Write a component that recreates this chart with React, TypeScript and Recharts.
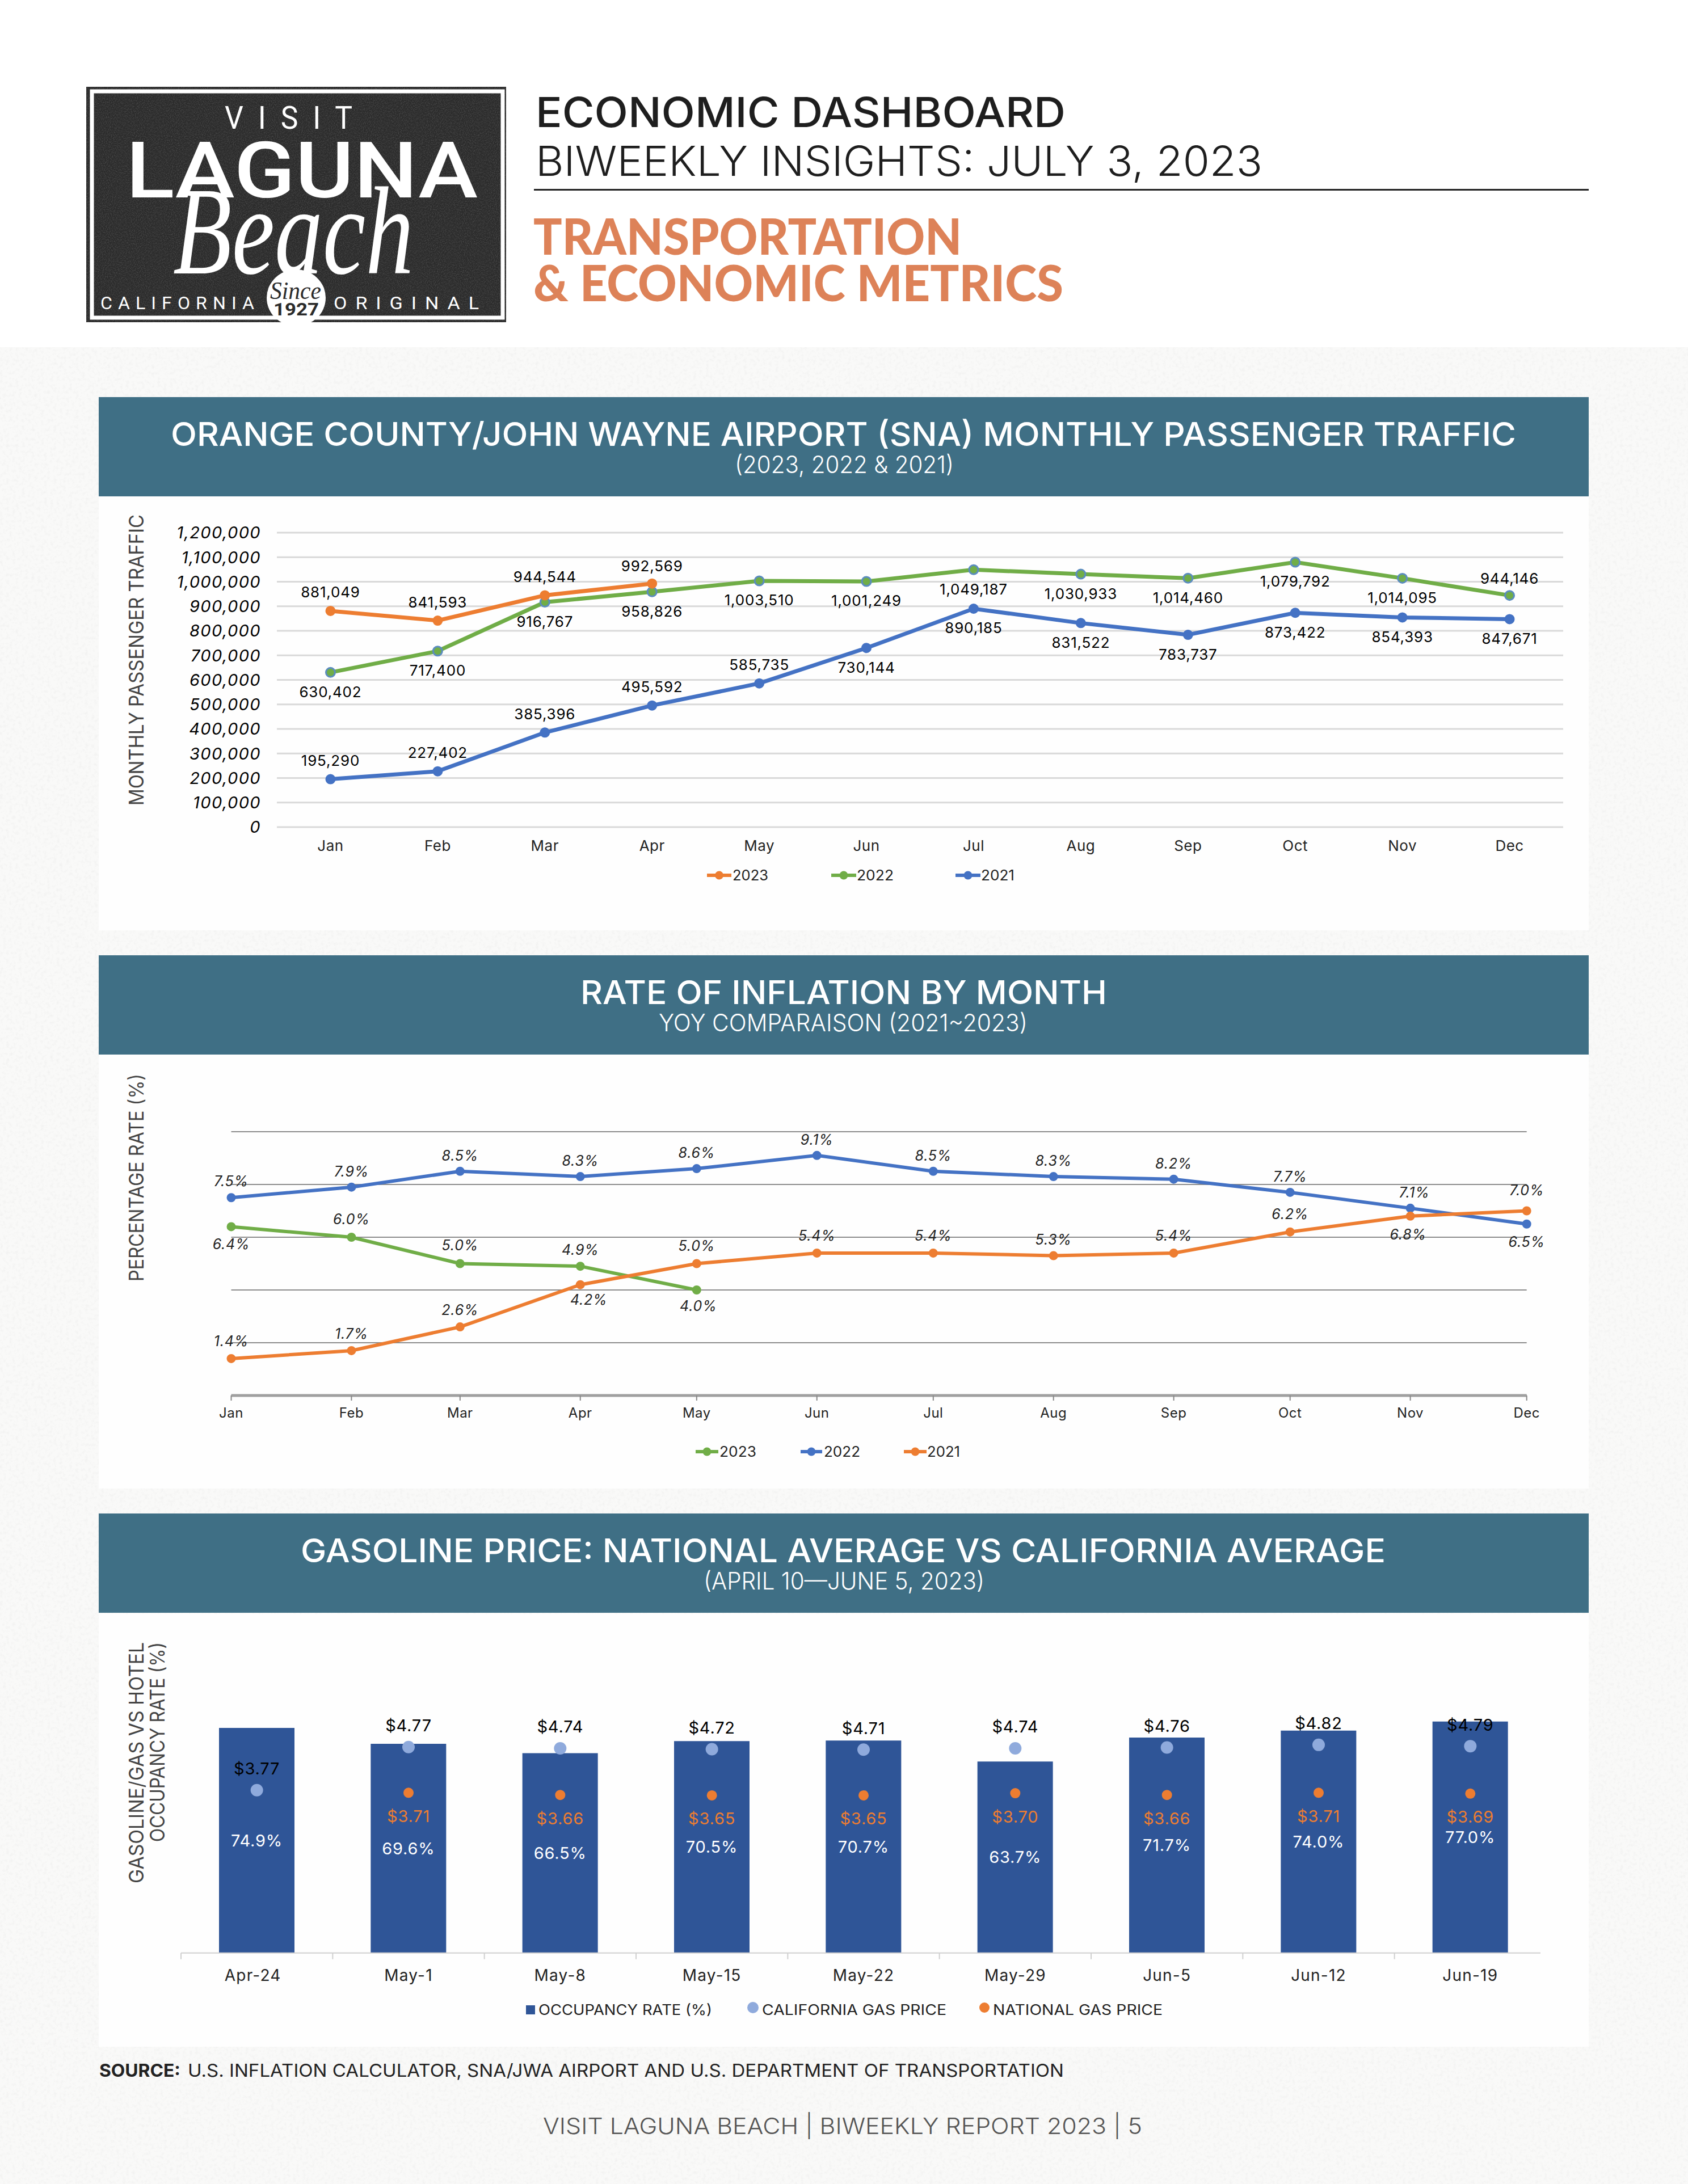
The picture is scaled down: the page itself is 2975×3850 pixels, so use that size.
import React from "react";
import {
  LineChart, ComposedChart, Line, Bar, XAxis, YAxis, CartesianGrid, LabelList, Legend,
} from "recharts";

// ---------- data ----------
const months = ["Jan", "Feb", "Mar", "Apr", "May", "Jun", "Jul", "Aug", "Sep", "Oct", "Nov", "Dec"];
const monthStartDays = [0, 31, 59, 90, 120, 151, 181, 212, 243, 273, 304, 334];

const pax2023 = [881049, 841593, 944544, 992569];
const pax2022 = [630402, 717400, 916767, 958826, 1003510, 1001249, 1049187, 1030933, 1014460, 1079792, 1014095, 944146];
const pax2021 = [195290, 227402, 385396, 495592, 585735, 730144, 890185, 831522, 783737, 873422, 854393, 847671];
const paxTicks = [0, 100000, 200000, 300000, 400000, 500000, 600000, 700000, 800000, 900000, 1000000, 1100000, 1200000];

const infl2023 = [6.4, 6.0, 5.0, 4.9, 4.0];
const infl2022 = [7.5, 7.9, 8.5, 8.3, 8.6, 9.1, 8.5, 8.3, 8.2, 7.7, 7.1, 6.5];
const infl2021 = [1.4, 1.7, 2.6, 4.2, 5.0, 5.4, 5.4, 5.3, 5.4, 6.2, 6.8, 7.0];
const inflTicks = [0, 2, 4, 6, 8, 10];

const weeks = ["Apr-24", "May-1", "May-8", "May-15", "May-22", "May-29", "Jun-5", "Jun-12", "Jun-19"];
const occupancy = [74.9, 69.6, 66.5, 70.5, 70.7, 63.7, 71.7, 74.0, 77.0];
const californiaGas = [3.77, 4.77, 4.74, 4.72, 4.71, 4.74, 4.76, 4.82, 4.79];
const nationalGas = [null, 3.71, 3.66, 3.65, 3.65, 3.70, 3.66, 3.71, 3.69];

// ---------- tables for the library ----------
const paxTable = months.map((month, i) => ({ month, y2023: pax2023[i] ?? null, y2022: pax2022[i], y2021: pax2021[i] }));
const inflTable = months.map((month, i) => ({ month, day: monthStartDays[i], y2023: infl2023[i] ?? null, y2022: infl2022[i], y2021: infl2021[i] }));
const gasTable = weeks.map((week, i) => ({ week, occupancy: occupancy[i], ca: californiaGas[i], us: nationalGas[i] }));

// ---------- style ----------
const FONT = "Inter, 'Noto Sans', sans-serif";
const ORANGE = "#ed7d31";
const GREEN = "#70ad47";
const BLUE = "#4472c4";
const BAND = "#3f6f85";
const BAR = "#2f5597";
const LIGHTBLUE = "#8faadc";

// label placement, offsets from each point
const up = -33, dn = 34;
const paxDy2023 = [up, up, up, -31];
const paxDy2022 = [dn, dn, dn, dn, dn, dn, dn, dn, dn, dn, dn, -30];
const paxDy2021 = [up, up, up, up, up, dn, dn, dn, dn, dn, dn, dn];
const inflDy2023 = [31, -32, -33, -29, 28];
const inflDx2023 = [0, 0, 0, 0, 3];
const inflDy2022 = [-29, -28, -28, -28, -28, -28, -28, -28, -28, -28, -28, 31];
const inflDx2022 = [0, 0, 0, 0, 0, 0, 0, 0, 0, 0, 7, 0];
const inflDy2021 = [-31, -30, -30, 26, -32, -31, -31, -29, -31, -32, 32, -37];
const inflDx2021 = [0, 0, 0, 15, 0, 0, 0, 0, 0, 0, -4, 0];

type LabelOpts = { dy: number[]; dx?: number[]; size: number; fill?: string; italic?: boolean; spacing?: number; fmt: (v: number) => string };
const pointLabel = ({ dy, dx, size, fill = "#000", italic, spacing, fmt }: LabelOpts) => (p: any) => {
  if (p.value == null || !p.viewBox) return null;
  const i = p.index;
  return (
    <text x={p.viewBox.x + (dx?.[i] ?? 0)} y={p.viewBox.y + dy[i]} textAnchor="middle" dominantBaseline="central"
      fontFamily={FONT} fontSize={size} fontStyle={italic ? "italic" : "normal"} fill={fill} letterSpacing={spacing}>
      {fmt(p.value)}
    </text>
  );
};

const fmtPax = (v: number) => v.toLocaleString("en-US");
const fmtPct = (v: number) => v.toFixed(1) + "%";
const fmtUsd = (v: number) => "$" + v.toFixed(2);

type Key = { name: string; x0: number; x1: number; tx: number; tw: number; kind: "line" | "square" | "dot"; r?: number; color?: string };
const legendOf = (ox: number, oy: number, y: number, size: number, keys: Key[]) => (p: any) => {
  const colors: Record<string, string> = {};
  (p.payload ?? []).forEach((e: any) => { colors[e.value] = e.color; });
  return (
    <svg width={2626} height={780} style={{ position: "absolute", left: 0, top: 0, overflow: "visible" }}>
      {keys.map((k) => {
        const c = k.color ?? colors[k.name];
        const cx = (k.x0 + k.x1) / 2 - ox;
        const cy = y - oy;
        return (
          <g key={k.name}>
            {k.kind === "line" && <line x1={k.x0 - ox} x2={k.x1 - ox} y1={cy} y2={cy} stroke={c} strokeWidth={6} />}
            {k.kind === "line" && <circle cx={cx} cy={cy} r={7.5} fill={c} />}
            {k.kind === "square" && <rect x={k.x0 - ox} y={cy - 8} width={k.x1 - k.x0} height={16} fill={c} />}
            {k.kind === "dot" && <circle cx={cx} cy={cy - 4} r={k.r} fill={c} />}
            <text x={k.tx - ox} y={cy + size * 0.36} fontFamily={FONT} fontSize={size} fill="#222"
              textLength={k.tw} lengthAdjust="spacingAndGlyphs">{k.name}</text>
          </g>
        );
      })}
    </svg>
  );
};

// Page-level text in page coordinates
const T = ({ x, y, w, size, weight = 400, fill = "#222", anchor = "start", family = FONT, italic, rot, spacing, children }: any) => (
  <text x={x} y={y} fontFamily={family} fontSize={size} fontWeight={weight} fill={fill} textAnchor={anchor}
    fontStyle={italic ? "italic" : "normal"} letterSpacing={spacing}
    textLength={w} lengthAdjust={w ? "spacingAndGlyphs" : undefined}
    transform={rot ? `rotate(${rot} ${x} ${y})` : undefined}>{children}</text>
);

const Band = ({ top, title, tx, tw, sub, sx, sw }: any) => (
  <g>
    <rect x={174} y={top} width={2626} height={175} fill={BAND} />
    <T x={tx} y={top + 86} w={tw} size={58} weight={500} fill="#fff">{title}</T>
    <T x={sx} y={top + 134} w={sw} size={42} weight={300} fill="#fff">{sub}</T>
  </g>
);

const GasTick = (p: any) => {
  const half = p.payload?.offset ?? 133.6;
  const shift = p.index === 0 ? -7 : 0;
  return (
    <g>
      <line x1={p.x - half} x2={p.x - half} y1={p.y - 30} y2={p.y - 19} stroke="#d0d0d0" strokeWidth={2} />
      <text x={p.x + shift} y={p.y + 19} textAnchor="middle" fontFamily={FONT} fontSize={28} letterSpacing={1.2} fill="#222">{p.payload.value}</text>
    </g>
  );
};

function PageArt() {
  return (
    <svg width={2975} height={3850} style={{ position: "absolute", left: 0, top: 0 }}>
      <defs>
        <filter id="paper" x="0" y="0" width="100%" height="100%">
          <feTurbulence type="fractalNoise" baseFrequency="0.18" numOctaves={3} seed={4} />
          <feColorMatrix type="matrix" values="0 0 0 0 0.55  0 0 0 0 0.55  0 0 0 0 0.55  0.9 0 0 0 -0.42" />
        </filter>
        <filter id="chalk" x="0" y="0" width="100%" height="100%">
          <feTurbulence type="fractalNoise" baseFrequency="0.55" numOctaves={3} seed={9} />
          <feColorMatrix type="matrix" values="0 0 0 0 0.75  0 0 0 0 0.75  0 0 0 0 0.75  1.1 0 0 0 -0.45" />
        </filter>
        <clipPath id="logoClip"><rect x={152} y={153} width={740} height={417} /></clipPath>
      </defs>
      <rect x={0} y={0} width={2975} height={3850} fill="#fff" />
      <rect x={0} y={612} width={2975} height={3238} fill="#f9f9f8" />
      <rect x={0} y={612} width={2975} height={3238} filter="url(#paper)" opacity={0.35} />
      {/* panels */}
      <rect x={174} y={874} width={2626} height={766} fill="#fefefe" />
      <rect x={174} y={1858} width={2626} height={766} fill="#fefefe" />
      <rect x={174} y={2845} width={2626} height={763} fill="#fefefe" />

      {/* logo */}
      <rect x={152} y={153} width={740} height={415} fill="#2b2b2b" />
      <rect x={152} y={153} width={740} height={415} filter="url(#chalk)" opacity={0.35} />
      <rect x={162} y={161} width={724} height={399} fill="none" stroke="#fff" strokeWidth={7} />
      <T x={396} y={227} w={251} size={56} weight={400} fill="#fff" family="Roboto, sans-serif" spacing={28}>VISIT</T>
      <T x={222} y={348} w={620} size={138} weight={500} fill="#fff" family="Roboto, sans-serif">LAGUNA</T>
      <T x={305} y={482} w={424} size={220} weight={400} fill="#fff" italic family="'Liberation Serif', serif">Beach</T>
      <T x={177} y={545} w={281} size={32} weight={400} fill="#fff" family="Roboto, sans-serif" spacing={10}>CALIFORNIA</T>
      <T x={588} y={545} w={271} size={32} weight={400} fill="#fff" family="Roboto, sans-serif" spacing={14}>ORIGINAL</T>
      <g clipPath="url(#logoClip)">
        <ellipse cx={522} cy={525} rx={52} ry={50} fill="#fff" />
      </g>
      <T x={476} y={527} w={90} size={44} fill="#2b2b2b" italic family="'Liberation Serif', serif">Since</T>
      <T x={482} y={556} w={80} size={31} weight={700} fill="#2b2b2b" family="Roboto, sans-serif">1927</T>

      {/* header */}
      <T x={944} y={224} w={934} size={73} weight={500} fill="#1e1e1e">ECONOMIC DASHBOARD</T>
      <T x={944} y={310} w={1281} size={73} weight={300} fill="#1e1e1e">BIWEEKLY INSIGHTS: JULY 3, 2023</T>
      <rect x={941} y={333} width={1859} height={3} fill="#222" />
      <T x={940} y={449} w={755} size={88} weight={900} fill="#dd8258" family="Lato, sans-serif">TRANSPORTATION</T>
      <T x={940} y={531} w={934} size={88} weight={900} fill="#dd8258" family="Lato, sans-serif">&amp; ECONOMIC METRICS</T>

      {/* section bands */}
      <Band top={700} title="ORANGE COUNTY/JOHN WAYNE AIRPORT (SNA) MONTHLY PASSENGER TRAFFIC" tx={301} tw={2371} sub="(2023, 2022 & 2021)" sx={1295} sw={386} />
      <Band top={1684} title="RATE OF INFLATION BY MONTH" tx={1023} tw={928} sub="YOY COMPARAISON (2021~2023)" sx={1161} sw={650} />
      <Band top={2668} title="GASOLINE PRICE: NATIONAL AVERAGE VS CALIFORNIA AVERAGE" tx={530} tw={1912} sub="(APRIL 10—JUNE 5, 2023)" sx={1240} sw={495} />

      {/* axis titles */}
      <T x={253} y={1420} w={513} size={35} rot={-90} fill="#444">MONTHLY PASSENGER TRAFFIC</T>
      <T x={253} y={2259} w={366} size={35} rot={-90} fill="#444">PERCENTAGE RATE (%)</T>
      <T x={253} y={3320} w={425} size={35} rot={-90} fill="#444">GASOLINE/GAS VS HOTEL</T>
      <T x={290} y={3247} w={352} size={35} rot={-90} fill="#444">OCCUPANCY RATE (%)</T>

      {/* source and footer */}
      <T x={175} y={3661} w={143} size={31} weight={700} fill="#222">SOURCE:</T>
      <T x={331} y={3661} w={1544} size={31} weight={400} fill="#222">U.S. INFLATION CALCULATOR, SNA/JWA AIRPORT AND U.S. DEPARTMENT OF TRANSPORTATION</T>
      <T x={957} y={3762} w={1056} size={40} weight={300} fill="#555">VISIT LAGUNA BEACH  |  BIWEEKLY REPORT 2023  |  5</T>
    </svg>
  );
}

function AirportChart() {
  const ox = 174, oy = 874;
  const labelBase = { size: 26, spacing: 0.8, fmt: fmtPax };
  return (
    <div style={{ position: "absolute", left: ox, top: oy }}>
      <LineChart width={2626} height={766} data={paxTable} margin={{ left: 164, right: 45, top: 65, bottom: 132 }}>
        <CartesianGrid vertical={false} stroke="#d9d9d9" strokeWidth={3} />
        <XAxis dataKey="month" scale="band" axisLine={false} tickLine={false} tickSize={0} tickMargin={24} height={50} interval={0}
          tick={{ fontFamily: FONT, fontSize: 26, letterSpacing: 0.5, fill: "#222" }} />
        <YAxis domain={[0, 1200000]} ticks={paxTicks} width={150} interval={0} axisLine={false} tickLine={false} tickSize={0} tickMargin={28}
          tickFormatter={fmtPax} tick={{ fontFamily: FONT, fontSize: 29, letterSpacing: 1.4, fontStyle: "italic", fill: "#000" }} />
        <Line dataKey="y2021" name="2021" stroke={BLUE} strokeWidth={7} isAnimationActive={false} dot={{ r: 8, fill: BLUE, stroke: BLUE, strokeWidth: 2 }}>
          <LabelList content={pointLabel({ dy: paxDy2021, ...labelBase })} />
        </Line>
        <Line dataKey="y2022" name="2022" stroke={GREEN} strokeWidth={7} isAnimationActive={false} dot={{ r: 8, fill: GREEN, stroke: "#5b8cbf", strokeWidth: 3 }}>
          <LabelList content={pointLabel({ dy: paxDy2022, ...labelBase })} />
        </Line>
        <Line dataKey="y2023" name="2023" stroke={ORANGE} strokeWidth={7} isAnimationActive={false} dot={{ r: 8, fill: ORANGE, stroke: ORANGE, strokeWidth: 2 }}>
          <LabelList content={pointLabel({ dy: paxDy2023, ...labelBase })} />
        </Line>
        <Legend layout="horizontal" align="center" verticalAlign="middle" wrapperStyle={{ left: 0, top: 0, width: 2626, height: 0 }}
          content={legendOf(ox, oy, 1543, 25, [
            { name: "2023", x0: 1246, x1: 1289, tx: 1291, tw: 63, kind: "line" },
            { name: "2022", x0: 1465, x1: 1509, tx: 1510, tw: 65, kind: "line" },
            { name: "2021", x0: 1684, x1: 1728, tx: 1729, tw: 59, kind: "line" },
          ])} />
      </LineChart>
    </div>
  );
}

function InflationChart() {
  const ox = 174, oy = 1858;
  const dot = (c: string) => ({ r: 7, fill: c, stroke: c, strokeWidth: 2 });
  const labelBase = { size: 25, spacing: 0.8, italic: true, fill: "#222", fmt: fmtPct };
  return (
    <div style={{ position: "absolute", left: ox, top: oy }}>
      <LineChart width={2626} height={766} data={inflTable} margin={{ left: 233.5, right: 109.3, top: 137, bottom: 114 }}>
        <CartesianGrid vertical={false} stroke="#8c8c8c" strokeWidth={2} />
        <XAxis dataKey="day" type="number" domain={[0, 334]} ticks={monthStartDays} interval={0} height={50}
          tickFormatter={(d: number) => months[monthStartDays.indexOf(d)]}
          axisLine={{ stroke: "#a0a0a0", strokeWidth: 5 }} tickLine={{ stroke: "#888", strokeWidth: 2 }} tickSize={9} tickMargin={13}
          tick={{ fontFamily: FONT, fontSize: 24, letterSpacing: 0.5, fill: "#222" }} />
        <YAxis domain={[0, 10]} ticks={inflTicks} hide />
        <Line dataKey="y2022" name="2022" stroke={BLUE} strokeWidth={6} isAnimationActive={false} dot={dot(BLUE)}>
          <LabelList content={pointLabel({ dy: inflDy2022, dx: inflDx2022, ...labelBase })} />
        </Line>
        <Line dataKey="y2023" name="2023" stroke={GREEN} strokeWidth={6} isAnimationActive={false} dot={dot(GREEN)}>
          <LabelList content={pointLabel({ dy: inflDy2023, dx: inflDx2023, ...labelBase })} />
        </Line>
        <Line dataKey="y2021" name="2021" stroke={ORANGE} strokeWidth={6} isAnimationActive={false} dot={dot(ORANGE)}>
          <LabelList content={pointLabel({ dy: inflDy2021, dx: inflDx2021, ...labelBase })} />
        </Line>
        <Legend layout="horizontal" align="center" verticalAlign="middle" wrapperStyle={{ left: 0, top: 0, width: 2626, height: 0 }}
          content={legendOf(ox, oy, 2559, 25, [
            { name: "2023", x0: 1226, x1: 1266, tx: 1268, tw: 65, kind: "line" },
            { name: "2022", x0: 1411, x1: 1449, tx: 1452, tw: 64, kind: "line" },
            { name: "2021", x0: 1593, x1: 1633, tx: 1634, tw: 58, kind: "line" },
          ])} />
      </LineChart>
    </div>
  );
}

function GasChart() {
  const ox = 174, oy = 2845;
  const axisLen = 2396;
  return (
    <div style={{ position: "absolute", left: ox, top: oy }}>
      <ComposedChart width={2626} height={763} data={gasTable} margin={{ left: 145, right: 75, top: 68, bottom: 105.3 }}>
        <XAxis dataKey="week" scale="band" height={60} interval={0} tickLine={false} tickSize={11} tickMargin={19}
          axisLine={{ stroke: "#d0d0d0", strokeWidth: 2, strokeDasharray: `${axisLen} 100` }} tick={<GasTick />} />
        <YAxis yAxisId="occ" domain={[0, 100]} hide />
        <YAxis yAxisId="usd" orientation="right" domain={[0, 6.96]} hide />
        <Bar yAxisId="occ" dataKey="occupancy" name="OCCUPANCY RATE (%)" fill={BAR} barSize={133} isAnimationActive={false}>
          <LabelList dataKey="occupancy" position="center" formatter={(v: any) => fmtPct(Number(v))}
            style={{ fontFamily: FONT, fontSize: 29, letterSpacing: 0.8, fill: "#fff" }} />
        </Bar>
        <Line yAxisId="usd" dataKey="ca" name="CALIFORNIA GAS PRICE" stroke="none" legendType="circle" isAnimationActive={false}
          dot={{ r: 11, fill: LIGHTBLUE, stroke: "none" }}>
          <LabelList content={pointLabel({ dy: californiaGas.map(() => -38), size: 29, spacing: 0.8, fmt: fmtUsd })} />
        </Line>
        <Line yAxisId="usd" dataKey="us" name="NATIONAL GAS PRICE" stroke="none" legendType="circle" isAnimationActive={false}
          dot={{ r: 9, fill: ORANGE, stroke: "none" }}>
          <LabelList content={pointLabel({ dy: nationalGas.map(() => 41), size: 29, spacing: 0.8, fill: ORANGE, fmt: fmtUsd })} />
        </Line>
        <Legend layout="horizontal" align="center" verticalAlign="middle" wrapperStyle={{ left: 0, top: 0, width: 2626, height: 0 }}
          content={legendOf(ox, oy, 3543, 25, [
            { name: "OCCUPANCY RATE (%)", x0: 927, x1: 943, tx: 949, tw: 306, kind: "square", color: BAR },
            { name: "CALIFORNIA GAS PRICE", x0: 1316, x1: 1338, tx: 1343, tw: 325, kind: "dot", r: 10, color: LIGHTBLUE },
            { name: "NATIONAL GAS PRICE", x0: 1725, x1: 1745, tx: 1750, tw: 299, kind: "dot", r: 9, color: ORANGE },
          ])} />
      </ComposedChart>
    </div>
  );
}

export default function App() {
  return (
    <div style={{ position: "absolute", left: 0, top: 0, width: 2975, height: 3850, overflow: "hidden" }}>
      <PageArt />
      <AirportChart />
      <InflationChart />
      <GasChart />
    </div>
  );
}
